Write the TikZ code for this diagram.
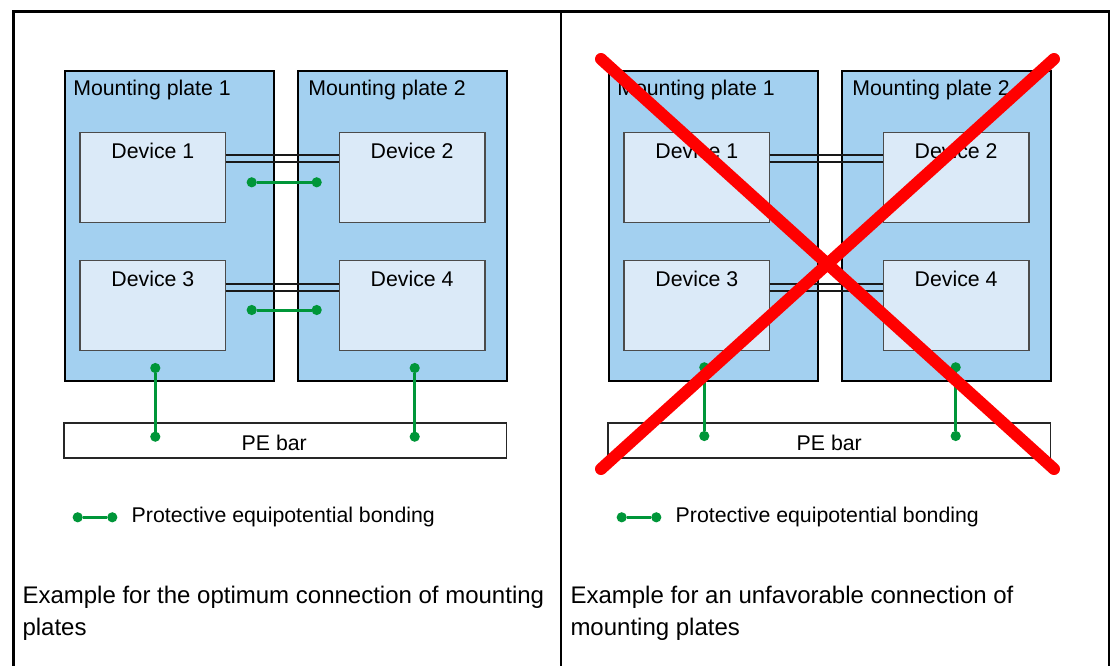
\documentclass[tikz,border=0pt]{standalone}
\usepackage{fontspec}
\setmainfont{Liberation Sans}
\usetikzlibrary{shapes,arrows,fit,positioning}
\definecolor{platefill}{RGB}{163,208,240}
\definecolor{devfill}{RGB}{219,234,248}
\definecolor{bondgreen}{RGB}{0,150,57}
\definecolor{edgegray}{RGB}{75,75,75}
\def\Dsize{\fontsize{21.3}{25}\selectfont}
\def\Csize{\fontsize{24}{32}\selectfont}

\begin{document}
\begin{tikzpicture}[% styles shared by both panels
    x=1pt,y=-1pt,       % one unit = one pixel of the page, y downwards
    every node/.style={font=\Dsize, inner sep=0pt, outer sep=0pt},
    plate/.style={rectangle, draw=black, line width=2pt, fill=platefill,
        minimum width=208.7pt, minimum height=309.7pt},
    device/.style={rectangle, draw=edgegray, line width=1.5pt, fill=devfill,
        minimum width=145.7pt, minimum height=89.8pt},
    plabel/.style={anchor=north west, xshift=8pt, yshift=-9pt},
    dlabel/.style={anchor=north, yshift=-10.7pt},
    bar/.style={rectangle, draw=black!85, line width=1.7pt, fill=white,
        minimum width=442.5pt, minimum height=35pt},
    dot/.style={circle, fill=bondgreen, minimum size=10.2pt},
    bond/.style={draw=bondgreen, line width=3pt},
    wire/.style={draw=black!90, line width=1.8pt},
    caption/.style={font=\Csize, align=left, anchor=north west},
    frame/.style={draw=black, line width=2.4pt},
    cross/.style={draw=red, line width=12pt, line cap=round}
  ]
  \useasboundingbox (0,0) rectangle (1114,666);

  % table frame
  \draw[frame] (13.5,670) |- (1109,11.5) -- (1109,670);
  \draw[frame] (561,11.5) -- (561,670);

  % left panel: optimum connection
  \node[plate, label={[plabel]north west:Mounting plate 1}] (P1) at (169.65,226.15) {};
  \node[plate, label={[plabel, xshift=2pt]north west:Mounting plate 2}] (P2) [right=24.3pt of P1] {};
  \node[device, label={[dlabel]north:Device 1}] (D1) at (152.85,177.4) {};
  \node[device, label={[dlabel]north:Device 2}] (D2) [right=113.6pt of D1] {};
  \node[device, label={[dlabel]north:Device 3}] (D3) [below=38.4pt of D1] {};
  \node[device, label={[dlabel]north:Device 4}] (D4) [right=113.6pt of D3] {};
  \node[bar, label={[anchor=base, xshift=-11pt, yshift=-27pt]north:PE bar}] (PE) at (285.25,440.8) {};
  \draw[wire] ([yshift=-22.5pt]D1.north east) -- ([yshift=-22.5pt]D2.north west);
  \draw[wire] ([yshift=-29.5pt]D1.north east) -- ([yshift=-29.5pt]D2.north west);
  \draw[wire] ([yshift=-23pt]D3.north east) -- ([yshift=-23pt]D4.north west);
  \draw[wire] ([yshift=-30.5pt]D3.north east) -- ([yshift=-30.5pt]D4.north west);
  \node[dot] (G1) at (251.7,182.3) {};
  \node[dot] (G2) at (316.7,182.3) {};
  \node[dot] (G3) at (251.7,310) {};
  \node[dot] (G4) at (316.7,310) {};
  \node[dot] (G5) at (155.3,368) {};
  \node[dot] (G6) at (155.3,436.7) {};
  \node[dot] (G7) at (414.7,368) {};
  \node[dot] (G8) at (414.7,436.7) {};
  \draw[bond] (G1) -- (G2);
  \draw[bond] (G3) -- (G4);
  \draw[bond] (G5) -- (G6);
  \draw[bond] (G7) -- (G8);
  \node[dot] (L1) at (77.7,517.3) {};
  \node[dot] (L2) at (112.3,517.3) {};
  \draw[bond] (L1) -- (L2);
  \node[anchor=base west] (T1) at (131.7,522.3) {Protective equipotential bonding};
  \node[caption] (C1) at (22.5,586) {Example for the optimum connection of mounting\\plates};

  % right panel: unfavorable connection
  \begin{scope}[xshift=544pt]
    \node[plate, label={[plabel]north west:Mounting plate 1}] (Q1) at (169.65,226.15) {};
    \node[plate, label={[plabel, xshift=2pt]north west:Mounting plate 2}] (Q2) [right=24.3pt of Q1] {};
    \node[device, label={[dlabel]north:Device 1}] (E1) at (152.85,177.4) {};
    \node[device, label={[dlabel]north:Device 2}] (E2) [right=113.6pt of E1] {};
    \node[device, label={[dlabel]north:Device 3}] (E3) [below=38.4pt of E1] {};
    \node[device, label={[dlabel]north:Device 4}] (E4) [right=113.6pt of E3] {};
    \node[bar, label={[anchor=base, yshift=-27pt]north:PE bar}] (PF) at (285.25,440.8) {};
    \draw[wire] ([yshift=-22.5pt]E1.north east) -- ([yshift=-22.5pt]E2.north west);
    \draw[wire] ([yshift=-29.5pt]E1.north east) -- ([yshift=-29.5pt]E2.north west);
    \draw[wire] ([yshift=-23pt]E3.north east) -- ([yshift=-23pt]E4.north west);
    \draw[wire] ([yshift=-30.5pt]E3.north east) -- ([yshift=-30.5pt]E4.north west);
    \node[dot] (H5) at (160.3,367.3) {};
    \node[dot] (H6) at (160.3,436) {};
    \node[dot] (H7) at (411.7,367.3) {};
    \node[dot] (H8) at (411.7,436) {};
    \draw[bond] (H5) -- (H6);
    \draw[bond] (H7) -- (H8);
    \node[dot] (M1) at (77.7,517.3) {};
    \node[dot] (M2) at (112.3,517.3) {};
    \draw[bond] (M1) -- (M2);
    \node[anchor=base west] (T2) at (131.7,522.3) {Protective equipotential bonding};
    \node[caption] (C2) at (26.5,586) {Example for an unfavorable connection of\\mounting plates};
    % crossed out
    \coordinate (X1) at (57,59);
    \coordinate (X2) at (510,469);
    \coordinate (X3) at (510,59);
    \coordinate (X4) at (57,469);
    \draw[cross] (X1) -- (X2);
    \draw[cross] (X3) -- (X4);
  \end{scope}
\end{tikzpicture}
\end{document}
